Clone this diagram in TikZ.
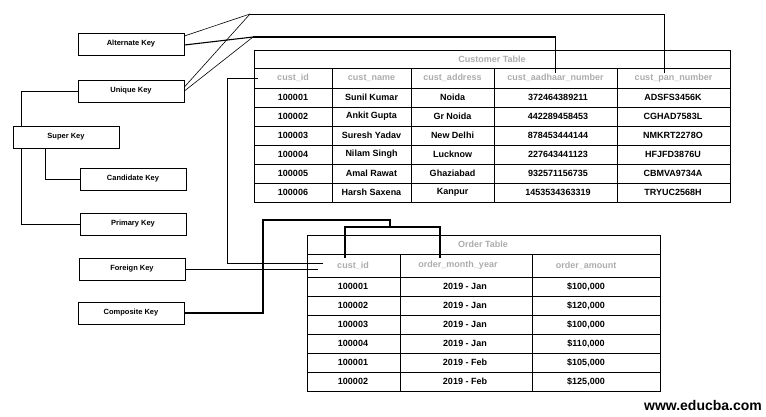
\documentclass[tikz,border=0pt]{standalone}
\usepackage{fontspec}
\setmainfont{Liberation Sans}
\tikzset{
  keybox/.style={draw, line width=0.8pt, minimum width=106pt, minimum height=22pt, inner sep=0pt, font=\fontsize{7.5}{9}\selectfont\bfseries},
  datatext/.style={inner sep=1pt, font=\fontsize{9}{10}\selectfont\bfseries},
  headtext/.style={inner sep=1pt, text=gray!65, font=\fontsize{9}{10}\selectfont\bfseries},
  grid/.style={line width=0.7pt},
  link/.style={line width=0.6pt},
  thicklink/.style={line width=1.1pt}
}
\begin{document}
\begin{tikzpicture}[x=1pt,y=-1pt]
    \useasboundingbox (0,0) rectangle (766,416);
    % key boxes
    \node[keybox] (alt) at (131,44) {Alternate Key};
    \node[keybox] (uniq) at (131,91) {Unique Key};
    \node[keybox] (super) at (66,137) {Super Key};
    \node[keybox] (cand) at (133,179) {Candidate Key};
    \node[keybox] (prim) at (133,224) {Primary Key};
    \node[keybox] (fgn) at (132,269) {Foreign Key};
    \node[keybox] (comp) at (131,313) {Composite Key};
    % customer table
    \draw[grid] (254,50) rectangle (730,202);
    \draw[grid] (254,68) -- (730,68);
    \draw[grid, line width=1pt] (254,88) -- (730,88);
    \foreach \y in {107,126,...,183} \draw[grid] (254,\y) -- (730,\y);
    \foreach \x in {332,411,494,617} \draw[grid] (\x,68) -- (\x,202);
    \node[headtext] (ctitle) at (492,59) {Customer Table};
    \foreach \h/\x [count=\c] in {cust\_id/293, cust\_name/371.5, cust\_address/452.5, cust\_aadhaar\_number/555.5, cust\_pan\_number/673.5}
        \node[headtext] (ch\c) at (\x,78) {\h};
    \foreach \a/\b/\cc/\d/\e [count=\r] in {100001/Sunil Kumar/Noida/372464389211/ADSFS3456K,
        100002/Ankit Gupta/Gr Noida/442289458453/CGHAD7583L,
        100003/Suresh Yadav/New Delhi/878453444144/NMKRT2278O,
        100004/Nilam Singh/Lucknow/227643441123/HFJFD3876U,
        100005/Amal Rawat/Ghaziabad/932571156735/CBMVA9734A,
        100006/Harsh Saxena/Kanpur/1453534363319/TRYUC2568H}{
        \pgfmathsetmacro\yy{78.5+19*\r}
        \node[datatext] (c\r-1) at (293,\yy) {\a};
        \node[datatext] (c\r-2) at (371.5,\yy) {\b};
        \node[datatext] (c\r-3) at (452.5,\yy) {\cc};
        \node[datatext] (c\r-4) at (558,\yy) {\d};
        \node[datatext] (c\r-5) at (673,\yy) {\e};
    }
    % order table
    \draw[grid] (307,235) rectangle (660,391);
    \draw[grid] (307,254) -- (660,254);
    \draw[grid, line width=1pt] (307,277) -- (660,277);
    \foreach \y in {296,315,...,372} \draw[grid] (307,\y) -- (660,\y);
    \foreach \x in {400,532} \draw[grid] (\x,254) -- (\x,391);
    \node[headtext] (otitle) at (483,244.5) {Order Table};
    \foreach \h/\x [count=\c] in {cust\_id/353, order\_month\_year/458, order\_amount/586}
        \node[headtext] (oh\c) at (\x,265.5) {\h};
    \foreach \a/\b/\cc [count=\r] in {100001/2019 - Jan/\$100{,}000,
        100002/2019 - Jan/\$120{,}000,
        100003/2019 - Jan/\$100{,}000,
        100004/2019 - Jan/\$110{,}000,
        100001/2019 - Feb/\$105{,}000,
        100002/2019 - Feb/\$125{,}000}{
        \pgfmathsetmacro\yy{267.5+19*\r}
        \node[datatext] (o\r-1) at (353,\yy) {\a};
        \node[datatext] (o\r-2) at (465,\yy) {\b};
        \node[datatext] (o\r-3) at (586,\yy) {\cc};
    }
    % links
    \draw[link] ([xshift=9pt]super.north west) |- (uniq.west);
    \draw[link] ([xshift=33pt]super.south west) |- (cand.west);
    \draw[link] ([xshift=9pt]super.south west) |- (prim.west);
    \coordinate (panbend) at (250,14);
    \coordinate (aadbend) at (253,37);
    \draw[link] ([yshift=8pt]alt.east) -- (panbend);
    \draw[thicklink] ([yshift=-1pt]alt.east) -- (aadbend);
    \draw[link] ([yshift=4pt]uniq.east) -- (panbend);
    \draw[link] (uniq.east) -- (aadbend);
    \draw[link] (panbend) -| ([xshift=-9pt]ch5.north);
    \draw[thicklink] (aadbend) -| (ch4.north);
    \coordinate (cidhook) at (258,78);
    \coordinate (idbend) at (227,263);
    \coordinate (fkend1) at (323,263);
    \coordinate (fkend2) at (318,269);
    \draw[link] (cidhook) -| (idbend) -- (fkend1);
    \draw[link] (fgn.east) -- (fkend2);
    \coordinate (cbend) at (263,220);
    \coordinate (ctop) at (390,227);
    \coordinate (cleg1) at (345,258);
    \coordinate (cleg2) at (440,258);
    \draw[thicklink] (comp.east) -| (cbend) -| (ctop);
    \draw[thicklink] (cleg1) |- (ctop) -| (cleg2);
    \node[font=\fontsize{14}{16}\selectfont\bfseries] (site) at (703,405) {www.educba.com};
\end{tikzpicture}
\end{document}
